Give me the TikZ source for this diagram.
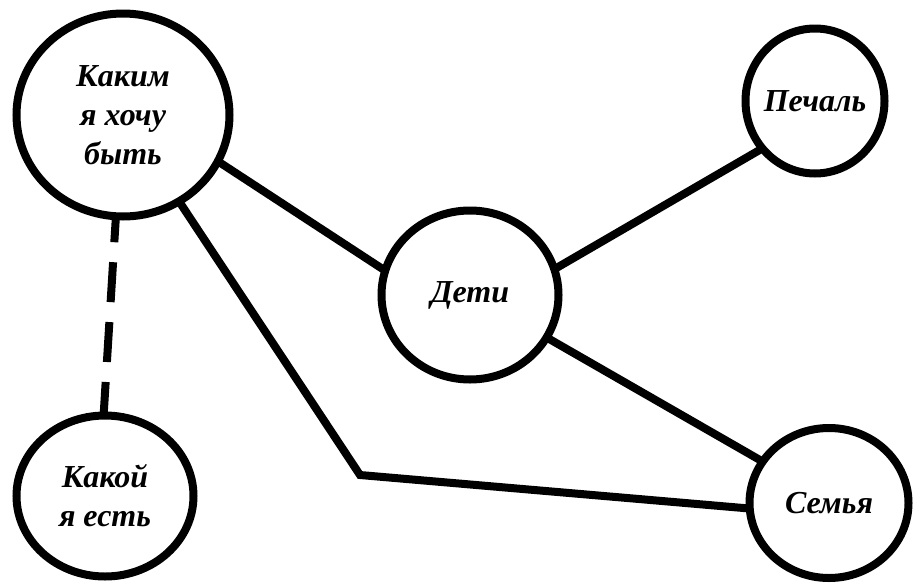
\documentclass[tikz,border=0pt]{standalone}
\usepackage{fontspec}
\setmainfont{Liberation Serif}
\usetikzlibrary{shapes.geometric}

\begin{document}
\begin{tikzpicture}[x=1pt, y=-1pt,
    bubble/.style={ellipse, draw, line width=8pt, inner sep=0pt, outer sep=0pt, align=center,
        font=\bfseries\itshape\fontsize{32}{39}\selectfont},
    link/.style={line width=8pt}]
    \useasboundingbox (0,0) rectangle (913,584);
    \node[bubble, minimum width=213pt, minimum height=203pt] (kakim) at (123,115) {Каким\\я хочу\\быть};
    \node[bubble, minimum width=177pt, minimum height=169pt] (deti) at (470,295) {Дети};
    \node[bubble, minimum width=139pt, minimum height=145pt, inner xsep=-10pt] (pechal) at (815,101) {Печаль};
    \node[bubble, minimum width=177pt, minimum height=161pt] (kakoy) at (105,496) {Какой\\я есть};
    \node[bubble, minimum width=159pt, minimum height=150pt] (semya) at (829,503) {Семья};
    \coordinate (bend) at (360,475);
    \draw[link] (kakim.-26) -- (deti.164);
    \draw[link] (deti.17) -- (pechal.222);
    \draw[link] (deti.-29) -- (semya.148);
    \draw[link] (kakim.-57) -- (bend) -- (semya.184);
    \draw[link, dash pattern=on 40pt off 20pt, dash phase=14pt] (kakim.-94) -- (kakoy.91);
\end{tikzpicture}
\end{document}
